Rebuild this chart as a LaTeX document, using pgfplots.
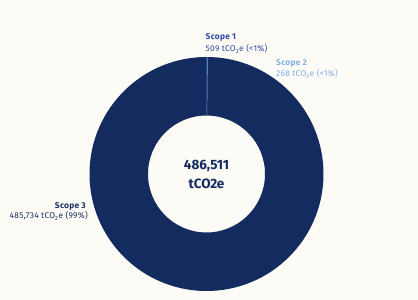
\documentclass[border=0pt]{standalone}
\usepackage{pgfplots}
\usepackage{pgfplotstable}
\pgfplotsset{compat=1.18}
\usepackage{fontspec}
\setmainfont{Fira Sans}
\newfontfamily\labelfont[LetterSpace=3]{Fira Sans}

\definecolor{bgcream}{HTML}{FCFBF6}
\definecolor{navy}{HTML}{132B5F}
\definecolor{scopeone}{HTML}{2F49A6}
\definecolor{scopetwo}{HTML}{80B1E9}
\definecolor{navytext}{HTML}{1B2F66}

% emissions by scope, tCO2e
\pgfplotstableread{
scope value
1 509
2 268
3 485734
}\emissions

\begin{document}
\begin{tikzpicture}[x=1pt,y=1pt,
  lbl/.style={anchor=west, inner sep=0, font=\labelfont\fontsize{8.4}{9}\selectfont},
  lblb/.style={lbl, font=\labelfont\fontsize{8.4}{9}\selectfont\bfseries}]
\fill[bgcream] (0,0) rectangle (418,300);

\pgfplotstablegetelem{0}{value}\of\emissions \let\vOne\pgfplotsretval
\pgfplotstablegetelem{1}{value}\of\emissions \let\vTwo\pgfplotsretval
\pgfplotstablegetelem{2}{value}\of\emissions \let\vThree\pgfplotsretval
% slice angles, clockwise from 12 o'clock (large values need the fpu)
\begingroup
\pgfkeys{/pgf/fpu=true, /pgf/fpu/output format=fixed}
\pgfmathparse{\vOne+\vTwo+\vThree}\let\total\pgfmathresult
\pgfmathparse{90-360*\vOne/\total}\xdef\aB{\pgfmathresult}
\pgfmathparse{90-360*(\vOne+\vTwo)/\total}\xdef\aC{\pgfmathresult}
\endgroup
\def\aA{90}
\pgfmathsetmacro\aD{\aC-359.999}

\begin{axis}[
  at={(206.5pt,126pt)}, anchor=center,
  scale only axis, width=234pt, height=234pt,
  xmin=-1, xmax=1, ymin=-1, ymax=1,
  hide axis, clip=false,
]
\fill[navy] (axis cs:{cos(\aC)},{sin(\aC)}) arc[start angle=\aC, end angle=\aD, radius=117pt]
  -- (axis cs:{0.5*cos(\aD)},{0.5*sin(\aD)}) arc[start angle=\aD, end angle=\aC, radius=58.5pt] -- cycle;
\fill[scopeone!60!scopetwo] (axis cs:{cos(\aA)},{sin(\aA)}) arc[start angle=\aA, end angle=\aB, radius=117pt]
  -- (axis cs:{0.5*cos(\aB)},{0.5*sin(\aB)}) arc[start angle=\aB, end angle=\aA, radius=58.5pt] -- cycle;
\fill[scopetwo] (axis cs:{cos(\aB)},{sin(\aB)}) arc[start angle=\aB, end angle=\aC, radius=117pt]
  -- (axis cs:{0.5*cos(\aC)},{0.5*sin(\aC)}) arc[start angle=\aC, end angle=\aB, radius=58.5pt] -- cycle;
\node[navy, font=\fontsize{13.5}{15}\selectfont\bfseries, align=center] at (axis cs:0,0.07) {486,511};
\node[navy, font=\fontsize{13.5}{15}\selectfont\bfseries, align=center] at (axis cs:0,-0.08) {tCO2e};
\end{axis}

% slice labels
\node[scopeone, lblb] at (205.5,263) {Scope 1};
\node[scopeone, lbl] at (205.5,251) {509 tCO\textsubscript{2}e (<1\%)};
\node[scopetwo, lblb] at (276,237) {Scope 2};
\node[scopetwo, lbl] at (276,226) {268 tCO\textsubscript{2}e (<1\%)};
\node[navytext, lblb, anchor=east] at (86,94) {Scope 3};
\node[navytext, lbl, anchor=east] at (88,84) {485,734 tCO\textsubscript{2}e (99\%)};
\end{tikzpicture}
\end{document}
